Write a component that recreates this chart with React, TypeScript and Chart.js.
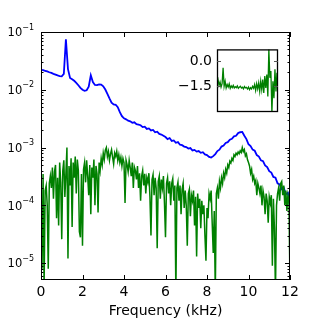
import React, { useEffect, useRef } from 'react';
import { Chart, registerables } from 'chart.js';

Chart.register(...registerables);

const FONT = '"DejaVu Sans", "Liberation Sans", sans-serif';

// ---- data ----
const blueStepKHz = 0.1;
const blueSpectrum = [
  0.0222, 0.0218, 0.0213, 0.0208, 0.0201, 0.0196, 0.0189, 0.0183, 0.0177, 0.0173,
  0.0171, 0.0188, 0.0750, 0.0228, 0.0160, 0.0152, 0.0143, 0.0132, 0.0120, 0.0108,
  0.0100, 0.0096, 0.0098, 0.0113, 0.0178, 0.0136, 0.0121, 0.0120, 0.0124, 0.0123,
  0.0115, 0.0101, 0.0085, 0.0071, 0.0060, 0.0056, 0.0055, 0.0050, 0.0041, 0.0035,
  0.0032, 0.00308, 0.00292, 0.00284, 0.00268, 0.00274, 0.00255, 0.00250, 0.00243, 0.00226,
  0.00230, 0.00210, 0.00214, 0.00198, 0.00202, 0.00184, 0.00188, 0.00172, 0.00168, 0.00160,
  0.00152, 0.00140, 0.00146, 0.00130, 0.00133, 0.00121, 0.00124, 0.00112, 0.00110, 0.00104,
  0.00102, 0.00096, 0.00098, 0.00089, 0.00091, 0.00085, 0.00087, 0.00081, 0.00083, 0.00076,
  0.00074, 0.00069, 0.00067, 0.00071, 0.00077, 0.00087, 0.00092, 0.00104, 0.00108, 0.00120,
  0.00124, 0.00137, 0.00142, 0.00156, 0.00160, 0.00178, 0.00184, 0.00186, 0.00160, 0.00140,
  0.00114, 0.00106, 0.00092, 0.00088, 0.00074, 0.00070, 0.00060, 0.00058, 0.00049, 0.00046,
  0.00039, 0.00037, 0.00031, 0.00030, 0.00024, 0.00023, 0.00019, 0.00020, 0.000155, 0.000165,
  0.000095,
];

const greenStepKHz = 0.05;
const greenSpectrum = [
  1.5e-4, 8e-6, 3.5e-4, 4e-6, 1.8e-4, 2.2e-4, 1.0e-4, 8e-6, 2.4e-4, 3.2e-4, 2.0e-4, 4.5e-4, 1.3e-4, 3.8e-4, 5.0e-4, 6e-5, 3.0e-4, 4.5e-5, 5.5e-4, 2.5e-4,
  2.6e-5, 4.0e-4, 6.0e-4, 1.4e-4, 3.5e-4, 1.0e-3, 1.2e-5, 4.8e-4, 2.2e-4, 6.5e-4, 4.2e-5, 5.5e-4, 3.0e-4, 7.0e-4, 1.6e-4, 6.2e-4, 4.0e-4, 3.5e-5, 2.8e-5, 3.5e-4,
  2.0e-5, 4.2e-4, 5.5e-4, 2.5e-4, 6.0e-4, 3.2e-4, 1.5e-4, 5.0e-4, 7.0e-5, 4.5e-4, 3.0e-4, 6.2e-4, 1.0e-4, 4.8e-4, 3.5e-4, 7.5e-5, 5.5e-4, 4.0e-4, 6.5e-4, 5.0e-4,
  8.0e-4, 6.2e-4, 9.0e-4, 1.0e-3, 7.0e-4, 8.5e-4, 6.0e-4, 7.8e-4, 9.2e-4, 6.8e-4, 5.2e-4, 8.0e-4, 7.0e-4, 8.6e-4, 6.0e-4, 7.5e-4, 5.5e-4, 6.8e-4, 4.8e-4, 6.5e-4,
  5.5e-4, 1.1e-4, 6.0e-4, 5.0e-4, 3.8e-4, 6.0e-4, 4.5e-4, 3.2e-4, 5.5e-4, 2.0e-4, 4.6e-4, 4.0e-4, 2.8e-4, 4.8e-4, 2.0e-4, 3.6e-4, 1.2e-4, 3.2e-4, 4.0e-4, 2.2e-4,
  3.5e-4, 1.6e-4, 3.0e-4, 2.5e-4, 3.6e-4, 1.4e-4, 3.0e-5, 2.8e-4, 3.4e-4, 1.5e-4, 3.0e-4, 2.0e-4, 1.8e-5, 2.6e-4, 3.2e-4, 1.3e-4, 2.8e-4, 2.0e-4, 3.2e-4, 1.1e-4,
  2.8e-5, 2.4e-4, 3.0e-4, 1.6e-4, 2.6e-4, 1.0e-4, 2.4e-4, 2.9e-4, 1.2e-4, 2.2e-4, 3.0e-6, 2.0e-4, 2.5e-4, 1.2e-4, 2.2e-4, 7.0e-5, 1.9e-4, 2.4e-4, 9.0e-5, 1.8e-4,
  1.0e-4, 2.0e-5, 1.6e-4, 1.9e-4, 6.5e-5, 1.5e-4, 1.2e-4, 1.8e-4, 4.5e-5, 1.4e-4, 1.3e-5, 1.6e-4, 9.0e-5, 1.3e-4, 4.0e-5, 1.2e-4, 7.0e-5, 1.0e-4, 3.0e-5, 1.1e-5,
  9.0e-5, 6.0e-5, 1.6e-4, 1.3e-4, 1.8e-4, 5.0e-5, 1.5e-5, 8.0e-5, 3.0e-6, 1.6e-4, 2.0e-4, 1.3e-4, 2.6e-4, 2.0e-4, 3.0e-4, 2.4e-4, 3.6e-4, 3.0e-4, 4.2e-4, 3.6e-4,
  5.0e-4, 4.5e-4, 5.8e-4, 5.4e-4, 6.5e-4, 6.0e-4, 7.5e-4, 7.0e-4, 8.0e-4, 7.5e-4, 8.4e-4, 7.8e-4, 8.8e-4, 8.2e-4, 1.0e-3, 8.5e-4, 9.2e-4, 7.2e-4, 7.8e-4, 6.2e-4,
  5.5e-4, 4.8e-4, 3.6e-4, 4.2e-4, 2.8e-4, 3.2e-4, 2.4e-4, 2.7e-4, 1.5e-4, 2.4e-4, 2.0e-4, 1.6e-4, 2.2e-4, 1.0e-4, 1.8e-4, 1.4e-4, 7.0e-5, 1.6e-4, 1.2e-4, 5.0e-5,
  1.4e-4, 1.1e-4, 1.5e-4, 9.0e-6, 1.3e-4, 4.0e-5, 3.0e-6, 1.0e-4, 1.6e-4, 2.0e-4, 1.2e-4, 2.4e-4, 2.6e-4, 1.5e-4, 2.2e-4, 1.0e-4, 1.8e-4, 8.0e-5, 1.5e-4, 1.2e-4,
  4.0e-6,
];

const insetStepKHz = 0.2;
const insetValues = [
  -1.30, -1.10, -1.45, -1.25, -1.55, -1.35, -0.40, -1.50, -1.20, -1.60,
  -1.40, -1.55, -1.35, -1.62, -1.48, -1.58, -1.45, -1.60, -1.52, -1.58,
  -1.48, -1.62, -1.55, -1.50, -1.60, -1.55, -1.65, -1.52, -1.60, -1.56,
  -1.66, -1.55, -1.70, -1.58, -1.66, -1.50, -1.62, -1.40, -1.75, -1.35,
  -1.65, -1.30, -1.80, -1.20, -1.70, -1.10, -1.90, -0.90, -1.60, -0.80,
  -2.10, 0.70, -1.00, -0.60, -3.10, -1.20, -2.20, -0.50, -1.80, -0.70,
  -1.50,
];

const xTickValues = [0, 2, 4, 6, 8, 10, 12];
const yDecadeExponents = [-5, -4, -3, -2, -1];
const insetTickValues = [0, -1.5];
const xAxisTitle = 'Frequency (kHz)';

const toPoints = (values: number[], step: number) =>
  values.map((v, i) => ({ x: Math.round(i * step * 100) / 100, y: v }));

const framePlugin = {
  id: 'mainFrame',
  afterDatasetsDraw(chart: any) {
    const { ctx, chartArea, scales } = chart;
    const { left, right, top, bottom } = chartArea;
    const xs = scales.x;
    const ys = scales.y;
    ctx.save();
    ctx.strokeStyle = '#000';
    ctx.lineWidth = 1;
    ctx.strokeRect(left + 0.5, top + 0.5, right - left - 1, bottom - top - 1);
    ctx.beginPath();
    for (const v of xTickValues) {
      const px = Math.round(xs.getPixelForValue(v)) + 0.5;
      ctx.moveTo(px, bottom);
      ctx.lineTo(px, bottom - 5);
      ctx.moveTo(px, top);
      ctx.lineTo(px, top + 5);
    }
    for (let d = -6; d <= -1; d++) {
      for (let m = 1; m <= 9; m++) {
        const val = m * Math.pow(10, d);
        if (val < ys.min || val > ys.max) continue;
        const py = Math.round(ys.getPixelForValue(val)) + 0.5;
        const len = m === 1 ? 5 : 2.5;
        ctx.moveTo(left, py);
        ctx.lineTo(left + len, py);
        ctx.moveTo(right, py);
        ctx.lineTo(right - len, py);
      }
    }
    ctx.stroke();
    ctx.fillStyle = '#000';
    ctx.textAlign = 'left';
    ctx.textBaseline = 'alphabetic';
    for (const d of yDecadeExponents) {
      const py = ys.getPixelForValue(Math.pow(10, d));
      const base = '10';
      const exp = '\u2212' + Math.abs(d);
      ctx.font = `11.5px ${FONT}`;
      const wb = ctx.measureText(base).width;
      ctx.font = `8px ${FONT}`;
      const we = ctx.measureText(exp).width;
      const x0 = 34 - wb - we;
      ctx.font = `11.5px ${FONT}`;
      ctx.fillText(base, x0, py + 4.2);
      ctx.font = `8px ${FONT}`;
      ctx.fillText(exp, x0 + wb, py - 2.3);
    }
    ctx.restore();
  },
};

const insetPlugin = {
  id: 'insetFrame',
  beforeDatasetsDraw(chart: any) {
    const { ctx, chartArea } = chart;
    const { left, right, top, bottom } = chartArea;
    ctx.save();
    ctx.fillStyle = '#fff';
    ctx.fillRect(left, top, right - left, bottom - top);
    ctx.restore();
  },
  afterDatasetsDraw(chart: any) {
    const { ctx, chartArea, scales } = chart;
    const { left, right, top, bottom } = chartArea;
    ctx.save();
    ctx.strokeStyle = '#000';
    ctx.lineWidth = 1.3;
    ctx.strokeRect(left + 0.5, top + 0.5, right - left - 1, bottom - top - 1);
    ctx.beginPath();
    ctx.strokeStyle = '#555';
    ctx.lineWidth = 1;
    for (const v of insetTickValues) {
      const py = Math.round(scales.y.getPixelForValue(v)) + 0.5;
      ctx.moveTo(left, py);
      ctx.lineTo(left + 4, py);
      ctx.moveTo(right, py);
      ctx.lineTo(right - 4, py);
    }
    ctx.stroke();
    ctx.restore();
  },
};

export default function App() {
  const mainRef = useRef<HTMLCanvasElement | null>(null);
  const insetRef = useRef<HTMLCanvasElement | null>(null);

  useEffect(() => {
    const main = new Chart(mainRef.current as HTMLCanvasElement, {
      type: 'line',
      data: {
        datasets: [
          {
            data: toPoints(blueSpectrum, blueStepKHz),
            borderColor: '#0000ff',
            borderWidth: 1.8,
            pointRadius: 0,
            tension: 0,
            fill: false,
            order: 2,
          },
          {
            data: toPoints(greenSpectrum, greenStepKHz),
            borderColor: '#008000',
            borderWidth: 1.5,
            pointRadius: 0,
            tension: 0,
            fill: false,
            order: 1,
          },
        ],
      },
      options: {
        animation: false,
        responsive: false,
        devicePixelRatio: 1,
        events: [],
        layout: { padding: { left: 0, right: 31, top: 32, bottom: 0 } },
        plugins: { legend: { display: false }, tooltip: { enabled: false } },
        scales: {
          x: {
            type: 'linear',
            min: 0,
            max: 12,
            afterFit: (s: any) => { s.height = 41; },
            afterBuildTicks: (s: any) => { s.ticks = xTickValues.map((v) => ({ value: v })); },
            grid: { display: false, drawTicks: false },
            border: { display: false },
            ticks: {
              color: '#000',
              font: { family: FONT, size: 14 },
              padding: 4,
              maxRotation: 0,
              autoSkip: false,
            },
            title: {
              display: true,
              text: xAxisTitle,
              color: '#000',
              font: { family: FONT, size: 14 },
              padding: { top: 0, bottom: 1 },
            },
          },
          y: {
            type: 'logarithmic',
            min: 5.1e-6,
            max: 0.1,
            afterFit: (s: any) => { s.width = 41; },
            grid: { display: false, drawTicks: false },
            border: { display: false },
            ticks: { display: false },
          },
        },
      },
      plugins: [framePlugin],
    } as any);

    const inset = new Chart(insetRef.current as HTMLCanvasElement, {
      type: 'line',
      data: {
        datasets: [
          {
            data: toPoints(insetValues, insetStepKHz),
            borderColor: '#008000',
            borderWidth: 1.3,
            pointRadius: 0,
            tension: 0,
            fill: false,
          },
        ],
      },
      options: {
        animation: false,
        responsive: false,
        devicePixelRatio: 1,
        events: [],
        layout: { padding: { left: 0, right: 12, top: 12, bottom: 14 } },
        plugins: { legend: { display: false }, tooltip: { enabled: false } },
        scales: {
          x: { type: 'linear', min: 0, max: 12, display: false },
          y: {
            type: 'linear',
            min: -3.02,
            max: 0.68,
            afterFit: (s: any) => { s.width = 67; },
            afterBuildTicks: (s: any) => { s.ticks = insetTickValues.map((v) => ({ value: v })); },
            grid: { display: false, drawTicks: false },
            border: { display: false },
            ticks: {
              color: '#000',
              font: { family: FONT, size: 14 },
              padding: 5,
              callback: (v: any) => (Number(v) < 0 ? '\u2212' : '') + Math.abs(Number(v)).toFixed(1),
            },
          },
        },
      },
      plugins: [insetPlugin],
    } as any);

    return () => {
      main.destroy();
      inset.destroy();
    };
  }, []);

  return (
    <div style={{ position: 'fixed', left: 0, top: 0, width: 321, height: 321, background: '#fff' }}>
      <canvas ref={mainRef} width={321} height={321} style={{ position: 'absolute', left: 0, top: 0, width: 321, height: 321 }} />
      <canvas ref={insetRef} width={140} height={90} style={{ position: 'absolute', left: 150, top: 36, width: 140, height: 90 }} />
    </div>
  );
}
